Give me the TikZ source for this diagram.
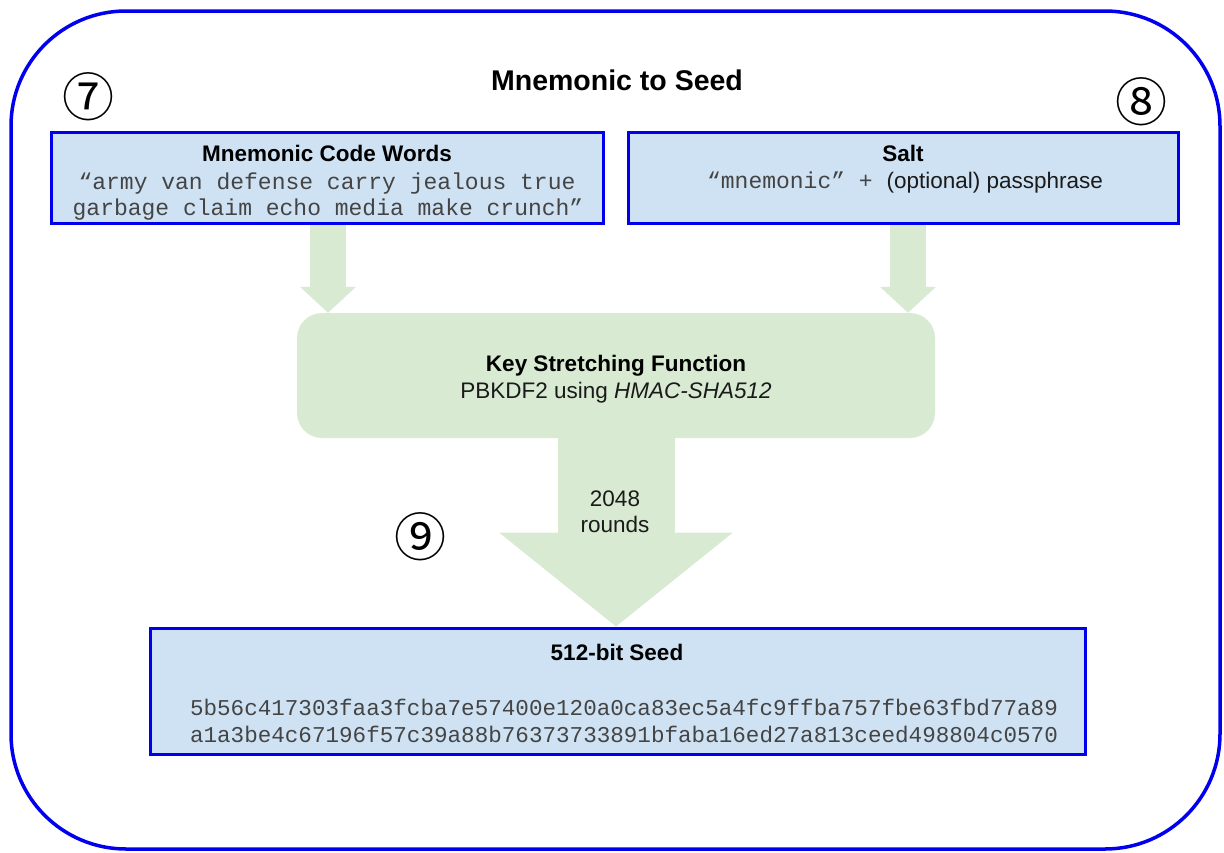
\documentclass[tikz,border=0pt]{standalone}
\usepackage{fontspec}
\setmainfont{Liberation Sans}
\setmonofont{Liberation Mono}
\newfontfamily\circfont{Noto Sans CJK JP}
\usetikzlibrary{arrows.meta,calc}
\definecolor{boxblue}{HTML}{CFE2F3}
\definecolor{edgeblue}{HTML}{0000EE}
\definecolor{flowgreen}{HTML}{D9EAD3}
\definecolor{monogray}{HTML}{444444}
\definecolor{textdark}{HTML}{1A1A1A}
\begin{document}
\begin{tikzpicture}[x=1pt,y=-1pt,
  frame/.style={draw=edgeblue, line width=3.5pt, rounded corners=115pt, inner sep=0pt},
  bluebox/.style={draw=edgeblue, fill=boxblue, line width=3pt, inner sep=0pt},
  greenbox/.style={fill=flowgreen, rounded corners=25pt, inner sep=0pt},
  txt/.style={anchor=base, inner sep=0pt, text=textdark, font=\fontsize{22.5}{26}\selectfont},
  boldtxt/.style={anchor=base, inner sep=0pt, text=black, font=\fontsize{22.5}{26}\selectfont\bfseries},
  titletxt/.style={anchor=base, inner sep=0pt, text=black, font=\fontsize{28.5}{30}\selectfont\bfseries},
  monotxt/.style={anchor=base, inner sep=0pt, text=monogray, font=\fontsize{23}{26}\selectfont\ttfamily},
  hextxt/.style={anchor=base, inner sep=0pt, text=monogray, font=\fontsize{22.6}{26}\selectfont\ttfamily},
  num/.style={inner sep=0pt, text=black, font=\fontsize{52}{52}\selectfont\circfont},
  smallflow/.style={draw=flowgreen, line width=36pt, -{Triangle[width=56pt,length=26pt,line width=0pt]}},
  bigflow/.style={draw=flowgreen, line width=117pt, -{Triangle[width=234pt,length=94pt,line width=0pt]}}
]
\useasboundingbox (0,0) rectangle (1224,852);

% frame
\node[frame, minimum width=1209pt, minimum height=838pt] (frame) at (615.5,430) {};

% boxes
\node[bluebox, minimum width=552pt, minimum height=91pt] (words) at (327,177.5) {};
\node[bluebox, minimum width=550pt, minimum height=91pt] (salt) at (903,177.5) {};
\node[greenbox, minimum width=638pt, minimum height=125pt] (kdf) at (616,375.5) {};
\node[bluebox, minimum width=935pt, minimum height=126pt] (seed) at (617.5,691) {};

% flows
\coordinate (la) at (328,0);
\coordinate (ra) at (908,0);
\draw[smallflow] (words.south -| la) -- (kdf.north -| la);
\draw[smallflow] (salt.south -| ra) -- (kdf.north -| ra);
\draw[bigflow] (kdf.south) -- (kdf.south |- seed.north);

% texts
\node[titletxt] (title) at (617,90) {Mnemonic to Seed};
\node[num] (n7) at (88,97) {⑦};
\node[num] (n8) at (1141,102) {⑧};
\node[num] (n9) at (420,537) {⑨};

\node[boldtxt] (wordshead) at (327,161) {Mnemonic Code Words};
\node[monotxt] (words1) at (327,189) {“army van defense carry jealous true};
\node[monotxt] (words2) at (328,215) {garbage claim echo media make crunch”};

\node[boldtxt] (salthead) at (903,161) {Salt};
\node[txt] (saltline) at (905,188) {{\ttfamily\fontsize{23}{26}\selectfont\color{monogray}“mnemonic” +\ }(optional) passphrase};

\node[boldtxt] (kdfhead) at (616,371) {Key Stretching Function};
\node[txt] (kdfline) at (616,398) {PBKDF2 using \textit{HMAC-SHA512}};

\node[txt] (rounds1) at (615,506) {2048};
\node[txt] (rounds2) at (615,532) {rounds};

\node[boldtxt] (seedhead) at (617,660) {512-bit Seed};
\node[hextxt] (hex1) at (624,715) {5b56c417303faa3fcba7e57400e120a0ca83ec5a4fc9ffba757fbe63fbd77a89};
\node[hextxt] (hex2) at (624,742) {a1a3be4c67196f57c39a88b76373733891bfaba16ed27a813ceed498804c0570};
\end{tikzpicture}
\end{document}
